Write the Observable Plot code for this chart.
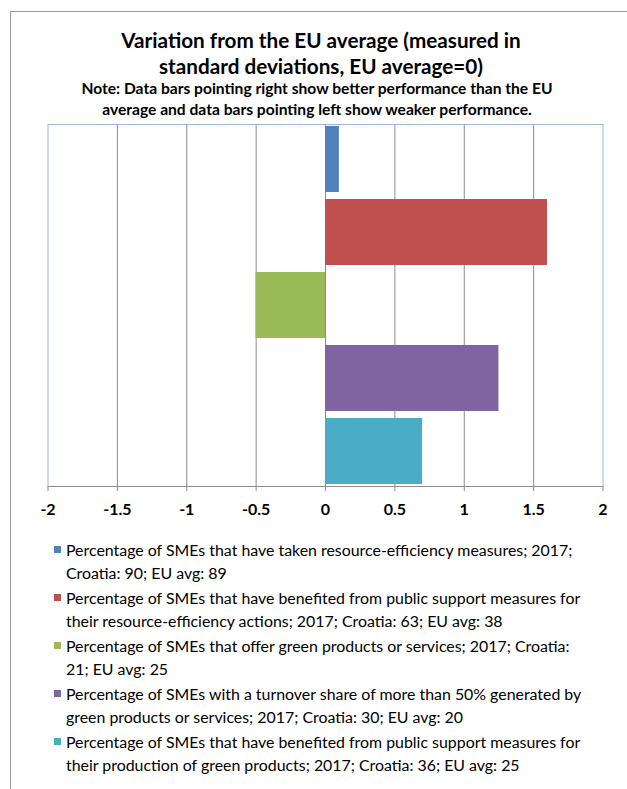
<!DOCTYPE html>
<html>
<head>
<meta charset="utf-8">
<script src="https://cdn.jsdelivr.net/npm/d3@7"></script>
<script src="https://cdn.jsdelivr.net/npm/@observablehq/plot@0.6"></script>
<style>
  html, body { margin: 0; padding: 0; background: #fff; width: 627px; height: 789px; overflow: hidden; }
  body { font-family: Lato, "Open Sans", sans-serif; color: #000; position: relative; }
  #box { position: absolute; left: 10px; top: 11px; width: 700px; height: 900px; border: 1px solid #9a9a9a; box-sizing: border-box; }
  #title { position: absolute; left: 0; top: 27px; width: 642px; text-align: center; font-weight: bold; font-size: 20.7px; line-height: 26px; }
  #note { position: absolute; left: 0; top: 77.5px; width: 634px; text-align: center; font-weight: bold; font-size: 15.6px; line-height: 21px; }
  #chart { position: absolute; left: 0; top: 115px; }
  #chart svg { background: transparent !important; }
  #legend { position: absolute; left: 54px; top: 537.5px; width: 570px; }
  .item { display: flex; align-items: flex-start; margin-bottom: 2px; }
  .sw { width: 7px; height: 7px; margin-top: 8px; margin-right: 5px; flex: none; }
  .txt { font-size: 15.9px; line-height: 23px; white-space: pre; }
</style>
</head>
<body>
<div id="box"></div>
<div id="title">Variation from the EU average (measured in<br>standard deviations, EU average=0)</div>
<div id="note">Note: Data bars pointing right show better performance than the EU<br>average and data bars pointing left show weaker performance.</div>
<div id="chart"></div>
<div id="legend"></div>
<script>
const categories = [
  "Percentage of SMEs that have taken resource-efficiency measures; 2017;\nCroatia: 90; EU avg: 89",
  "Percentage of SMEs that have benefited from public support measures for\ntheir resource-efficiency actions; 2017; Croatia: 63; EU avg: 38",
  "Percentage of SMEs that offer green products or services; 2017; Croatia:\n21; EU avg: 25",
  "Percentage of SMEs with a turnover share of more than 50% generated by\ngreen products or services; 2017; Croatia: 30; EU avg: 20",
  "Percentage of SMEs that have benefited from public support measures for\ntheir production of green products; 2017; Croatia: 36; EU avg: 25"
];
const values = [0.1, 1.6, -0.5, 1.25, 0.7];
const colors = ["#4f81bd", "#c0504d", "#9bbb59", "#8064a2", "#4bacc6"];
const xTicks = [-2, -1.5, -1, -0.5, 0, 0.5, 1, 1.5, 2];
const gridTicks = xTicks.slice(1, -1);

const data = categories.map((c, i) => ({category: c, value: values[i]}));

const chart = Plot.plot({
  width: 627,
  height: 406,
  marginTop: 9,
  marginBottom: 35,
  marginLeft: 47.5,
  marginRight: 24.5,
  style: {fontFamily: "Lato, 'Open Sans', sans-serif", background: "transparent"},
  x: {domain: [-2, 2]},
  y: {domain: categories, paddingInner: 0.1, paddingOuter: 0, axis: null},
  color: {domain: categories, range: colors},
  marks: [
    Plot.gridX(gridTicks, {stroke: "#8c8c8c", strokeOpacity: 1}),
    Plot.frame({stroke: "#9db8d9"}),
    Plot.barX(data, {x: "value", y: "category", fill: "category"}),
    Plot.axisX(xTicks, {
      anchor: "bottom",
      label: null,
      tickSize: 5,
      stroke: "#8c8c8c",
      tickPadding: 12,
      tickFormat: d => String(d),
      fontSize: 16,
      fontWeight: "bold",
      fill: "#000"
    }),
    Plot.frame({anchor: "bottom", stroke: "#8c8c8c"})
  ]
});
document.getElementById("chart").appendChild(chart);

const legend = d3.select("#legend");
categories.forEach((c, i) => {
  const item = legend.append("div").attr("class", "item");
  item.append("div").attr("class", "sw").style("background", colors[i]);
  item.append("div").attr("class", "txt").text(c);
});
</script>
</body>
</html>
